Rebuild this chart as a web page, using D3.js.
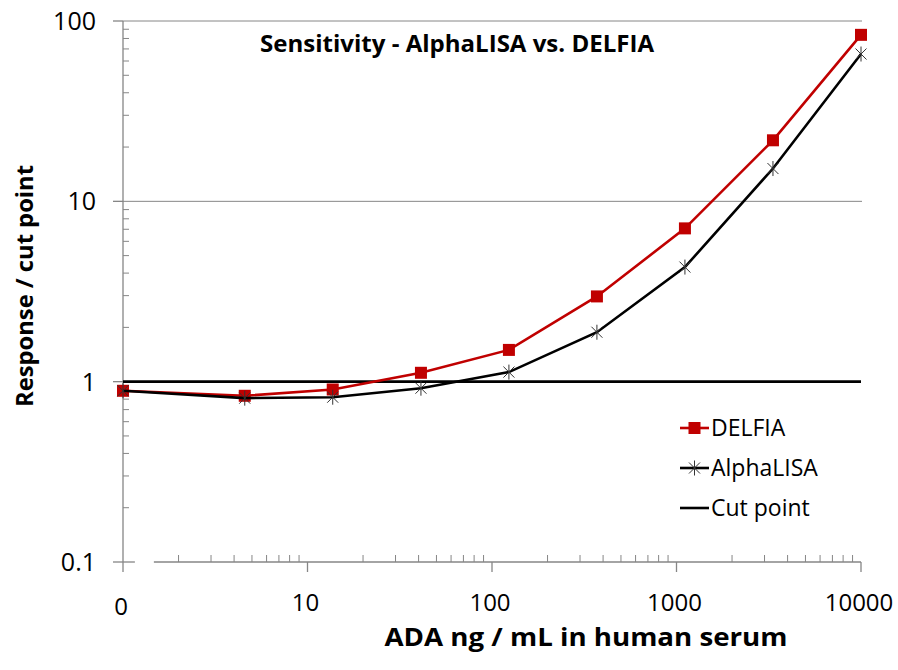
<!DOCTYPE html>
<html>
<head>
<meta charset="utf-8">
<script src="https://cdn.jsdelivr.net/npm/d3@7"></script>
<style>
    body { margin: 0; background: #fff; }
    text { font-family: 'Open Sans', sans-serif; fill: #000; }
</style>
</head>
<body>
<svg id="chart" width="898" height="670"></svg>
<script>
// ADA concentrations (3-fold dilutions), 0 is drawn at the "0" position (=1 on the log axis)
var concentrations = [0, 4.57, 13.7, 41.2, 123.5, 370.4, 1111, 3333, 10000];
var delfia    = [0.89, 0.835, 0.905, 1.12, 1.50, 2.97, 7.08, 21.8, 83.8];
var alphalisa = [0.89, 0.81, 0.82, 0.92, 1.13, 1.88, 4.32, 15.2, 65.6];
var cutPoint = 1;

var xTickValues = [1, 10, 100, 1000, 10000];
var xTickLabels = ['0', '10', '100', '1000', '10000'];
var yTickValues = [0.1, 1, 10, 100];
var yTickLabels = ['0.1', '1', '10', '100'];

var legendNames = ['DELFIA', 'AlphaLISA', 'Cut point'];

var red = '#c00000',
    axisGrey = '#868686';

var svg = d3.select('#chart');

var x = d3.scaleLog().domain([1, 10000]).range([123, 861]);
var y = d3.scaleLog().domain([0.1, 100]).range([562, 21]);

var xPos = function(c) { return x(c === 0 ? 1 : c); };

// minor ticks 2..9 in every decade
var minorTicks = function(lo, hi) {
    var out = [];
    for (var d = lo; d < hi; d *= 10) {
        for (var k = 2; k < 10; k++) { out.push(d * k); }
    }
    return out;
};

// Gridlines at 10 and 100
svg.selectAll('.grid').data([10, 100])
  .enter().append('line')
    .attr('x1', x(1)).attr('x2', x(10000) + 1)
    .attr('y1', function(d) { return y(d); })
    .attr('y2', function(d) { return y(d); })
    .style('stroke', axisGrey).style('stroke-width', 1);

// Y axis
svg.append('line')
    .attr('x1', x(1)).attr('x2', x(1))
    .attr('y1', y(100)).attr('y2', y(0.1))
    .style('stroke', axisGrey).style('stroke-width', 1.3);

svg.selectAll('.ymajor').data(yTickValues)
  .enter().append('line')
    .attr('x1', x(1) - 10).attr('x2', x(1))
    .attr('y1', function(d) { return y(d); })
    .attr('y2', function(d) { return y(d); })
    .style('stroke', axisGrey).style('stroke-width', 1.3);

svg.selectAll('.yminor').data(minorTicks(0.1, 100))
  .enter().append('line')
    .attr('x1', x(1)).attr('x2', x(1) + 6)
    .attr('y1', function(d) { return y(d); })
    .attr('y2', function(d) { return y(d); })
    .style('stroke', axisGrey).style('stroke-width', 1);

svg.selectAll('.ylabel').data(yTickValues)
  .enter().append('text')
    .attr('x', 96)
    .attr('y', function(d) { return y(d); })
    .attr('dy', '0.36em')
    .attr('text-anchor', 'end')
    .style('font-size', '25px')
    .text(function(d, i) { return yTickLabels[i]; });

// X axis (broken just right of the "0" position)
var xAxisSegments = [[1, 1.16], [1.47, 10000]];
svg.selectAll('.xaxis').data(xAxisSegments)
  .enter().append('line')
    .attr('x1', function(d) { return x(d[0]); })
    .attr('x2', function(d) { return x(d[1]); })
    .attr('y1', y(0.1)).attr('y2', y(0.1))
    .style('stroke', axisGrey).style('stroke-width', 1.3);

svg.selectAll('.xmajor').data(xTickValues)
  .enter().append('line')
    .attr('x1', function(d) { return x(d); })
    .attr('x2', function(d) { return x(d); })
    .attr('y1', y(0.1)).attr('y2', y(0.1) + 10)
    .style('stroke', axisGrey).style('stroke-width', 1.3);

svg.selectAll('.xminor').data(minorTicks(1, 10000))
  .enter().append('line')
    .attr('x1', function(d) { return x(d); })
    .attr('x2', function(d) { return x(d); })
    .attr('y1', y(0.1) - 7).attr('y2', y(0.1))
    .style('stroke', axisGrey).style('stroke-width', 1);

svg.selectAll('.xlabel').data(xTickValues)
  .enter().append('text')
    .attr('x', function(d) { return x(d) - 2; })
    .attr('y', function(d, i) { return i === 0 ? 615 : 611; })
    .attr('text-anchor', 'middle')
    .style('font-size', '24px')
    .text(function(d, i) { return xTickLabels[i]; });

// Cut point line
svg.append('line')
    .attr('x1', x(1)).attr('x2', x(10000))
    .attr('y1', y(cutPoint)).attr('y2', y(cutPoint))
    .style('stroke', '#000').style('stroke-width', 2.6);

var line = d3.line()
    .x(function(d, i) { return xPos(concentrations[i]); })
    .y(function(d) { return y(d); });

// DELFIA series
svg.append('path')
    .attr('d', line(delfia))
    .style('fill', 'none').style('stroke', red).style('stroke-width', 2.6);

svg.selectAll('.delfia').data(delfia)
  .enter().append('rect')
    .attr('x', function(d, i) { return xPos(concentrations[i]) - 6; })
    .attr('y', function(d) { return y(d) - 6; })
    .attr('width', 12).attr('height', 12)
    .style('fill', red);

// AlphaLISA series
svg.append('path')
    .attr('d', line(alphalisa))
    .style('fill', 'none').style('stroke', '#000').style('stroke-width', 2.6);

var star = function(sel) {
    sel.append('path')
        .attr('d', 'M-5.5,-5.5L5.5,5.5M-5.5,5.5L5.5,-5.5M0,-7.5L0,7.5')
        .style('stroke', '#333').style('stroke-width', 1).style('fill', 'none');
};

svg.selectAll('.alpha').data(alphalisa)
  .enter().append('g')
    .attr('transform', function(d, i) { return 'translate(' + xPos(concentrations[i]) + ',' + y(d) + ')'; })
    .call(star);

// Title
svg.append('text')
    .attr('x', 457).attr('y', 52)
    .attr('text-anchor', 'middle')
    .attr('textLength', 394).attr('lengthAdjust', 'spacingAndGlyphs')
    .style('font-size', '24px').style('font-weight', 'bold')
    .text('Sensitivity - AlphaLISA vs. DELFIA');

// Axis titles
svg.append('text')
    .attr('x', 586).attr('y', 646)
    .attr('text-anchor', 'middle')
    .attr('textLength', 403).attr('lengthAdjust', 'spacingAndGlyphs')
    .style('font-size', '25px').style('font-weight', 'bold')
    .text('ADA ng / mL in human serum');

svg.append('text')
    .attr('transform', 'translate(33,286) rotate(-90)')
    .attr('text-anchor', 'middle')
    .attr('textLength', 242).attr('lengthAdjust', 'spacingAndGlyphs')
    .style('font-size', '24px').style('font-weight', 'bold')
    .text('Response / cut point');

// Legend
var legend = svg.selectAll('.legend').data(legendNames)
  .enter().append('g')
    .attr('transform', function(d, i) { return 'translate(680,' + (428 + i * 40) + ')'; });

legend.append('line')
    .attr('x1', 0).attr('x2', 29)
    .style('stroke', function(d, i) { return i === 0 ? red : '#000'; })
    .style('stroke-width', 2.6);

legend.filter(function(d, i) { return i === 0; }).append('rect')
    .attr('x', 8.5).attr('y', -6).attr('width', 12).attr('height', 12)
    .style('fill', red);

legend.filter(function(d, i) { return i === 1; }).append('g')
    .attr('transform', 'translate(14.5,0)')
    .call(star);

legend.append('text')
    .attr('x', 31).attr('dy', '0.36em')
    .style('font-size', '23px')
    .text(function(d) { return d; });
</script>
</body>
</html>
